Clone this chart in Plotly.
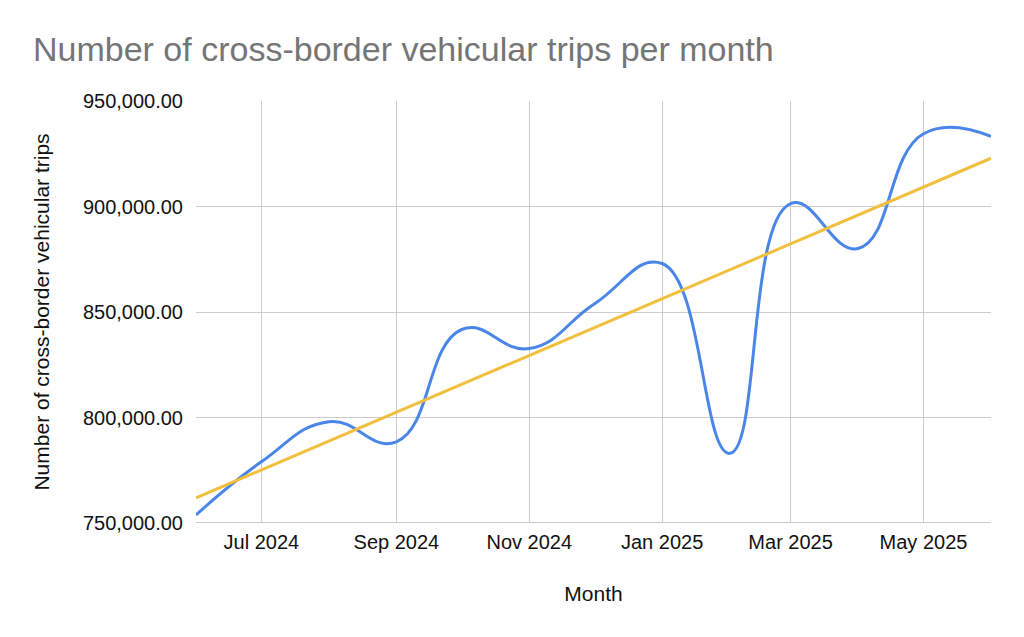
import numpy as np
import pandas as pd
import plotly.graph_objs as go

months = ['2024-06-01', '2024-07-01', '2024-08-01', '2024-09-01', '2024-10-01',
          '2024-11-01', '2024-12-01', '2025-01-01', '2025-02-01', '2025-03-01',
          '2025-04-01', '2025-05-01', '2025-06-01']
trips = [753800, 779000, 798000, 788500, 841700, 832700, 853900,
         873000, 783000, 901400, 880100, 934500, 933200]

title_text = 'Number of cross-border vehicular trips per month'
x_title = 'Month'
y_title = 'Number of cross-border vehicular trips'

# linear trendline, fitted against day offsets
dates = pd.to_datetime(months)
days = (dates - dates[0]).days.values
slope, intercept = np.polyfit(days, trips, 1)
trend = slope * days + intercept

font = 'Arial, Liberation Sans, sans-serif'
W, H = 1008, 621  # page body has an 8px margin

data = [
    go.Scatter(x=months, y=trips, mode='lines',
               line=dict(color='#4a86e8', width=3, shape='spline', smoothing=1.3),
               name='Trips'),
    go.Scatter(x=[months[0], months[-1]], y=[trend[0], trend[-1]], mode='lines',
               line=dict(color='#f1bf3c', width=3),
               name='Trendline'),
]

layout = go.Layout(
    width=W, height=H,
    paper_bgcolor='white', plot_bgcolor='white',
    showlegend=False,
    margin=dict(l=188, r=25, t=93, b=106),
    title=dict(text=title_text, x=25 / W, xref='container', xanchor='left',
               y=1 - 41 / H, yref='container', yanchor='middle',
               font=dict(family=font, size=34, color='#757575')),
    xaxis=dict(type='date', range=[months[0], months[-1]],
               tick0='2024-07-01', dtick='M2', tickformat='%b %Y',
               showgrid=True, gridcolor='#cccccc', gridwidth=1,
               zeroline=False, showline=False, ticks='',
               ticklabelstandoff=5,
               tickfont=dict(family=font, size=20, color='#111111'),
               title=dict(text=x_title, standoff=34,
                          font=dict(family=font, size=21, color='#111111'))),
    yaxis=dict(range=[750000, 950000], dtick=50000, tickformat=',.2f',
               showgrid=True, gridcolor='#cccccc', gridwidth=1,
               zeroline=False, showline=False, ticks='',
               ticklabelstandoff=12,
               tickfont=dict(family=font, size=20, color='#111111'),
               title=dict(text=y_title, standoff=27,
                          font=dict(family=font, size=21, color='#111111'))),
    shapes=[dict(type='line', xref='paper', yref='y', x0=0, x1=1,
                 y0=750000, y1=750000, line=dict(color='#cccccc', width=2))],
)

fig = go.Figure(data=data, layout=layout)
fig.write_html('out.html')
